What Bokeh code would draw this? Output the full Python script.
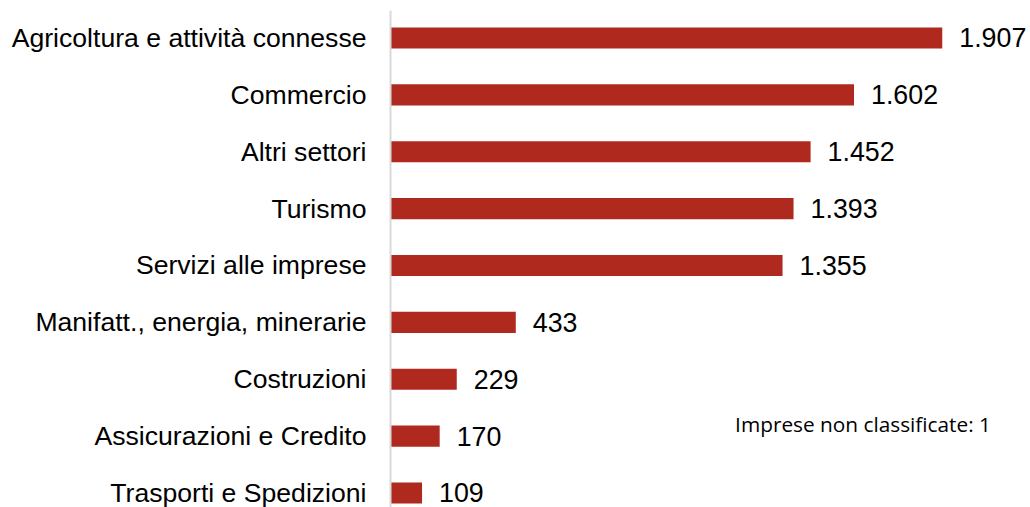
from bokeh.plotting import figure
from bokeh.models import Range1d, FixedTicker, ColumnDataSource, Label
from bokeh.embed import file_html
from bokeh.resources import INLINE
from bokeh.core.properties import value

categories = [
    "Agricoltura e attività connesse",
    "Commercio",
    "Altri settori",
    "Turismo",
    "Servizi alle imprese",
    "Manifatt., energia, minerarie",
    "Costruzioni",
    "Assicurazioni e Credito",
    "Trasporti e Spedizioni",
]
values = [1907, 1602, 1452, 1393, 1355, 433, 229, 170, 109]
note_text = "Imprese non classificate: 1"

n = len(categories)
ypos = [n - 1 - i for i in range(n)]
labels = [f"{v:,}".replace(",", ".") for v in values]

src = ColumnDataSource(dict(y=ypos, v=values, lab=labels, cat=categories))

p = figure(width=1030, height=507, output_backend="svg", toolbar_location=None,
           x_range=Range1d(0, 2212), y_range=Range1d(-0.255, 8.4835),
           min_border_left=390, min_border_right=0, min_border_top=10,
           min_border_bottom=0)
p.outline_line_color = None
p.grid.grid_line_color = None
p.xaxis.visible = False
p.background_fill_color = "white"
p.border_fill_color = "white"

p.hbar(y="y", left=0, right="v", height=0.37, source=src,
       fill_color="#B0291F", line_color=None)

p.text(x="v", y="y", text="lab", source=src, x_offset=17,
       text_baseline="middle", text_align="left",
       text_font=value("Liberation Sans"), text_font_size="26.8px",
       text_color="#000000")

ya = p.yaxis[0]
ya.ticker = FixedTicker(ticks=ypos)
ya.major_label_overrides = {y: c for y, c in zip(ypos, categories)}
ya.major_label_text_font = "Liberation Sans"
ya.major_label_text_font_size = "26.6px"
ya.major_label_text_color = "#000000"
ya.major_tick_line_color = None
ya.minor_tick_line_color = None
ya.major_tick_out = 0
ya.major_tick_in = 0
ya.major_label_standoff = 24
ya.axis_line_color = "#D9D9D9"
ya.axis_line_width = 2

note = Label(x=1191, y=1.22, text=note_text, text_baseline="middle",
             text_font="Open Sans", text_font_size="20.8px", text_color="#000000")
p.add_layout(note)

open("out.html", "w").write(file_html(p, INLINE))
